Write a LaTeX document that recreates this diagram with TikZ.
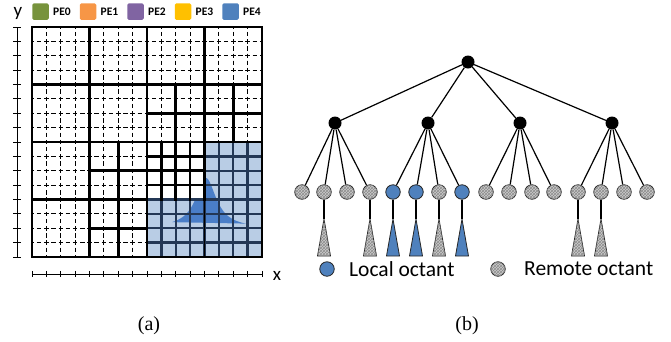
\documentclass[tikz,border=0pt]{standalone}
\usepackage{fontspec}
\setmainfont{Carlito}
\newfontfamily\capfont{Liberation Serif}
\usepackage{tikz}
\usetikzlibrary{positioning, patterns}
\definecolor{pezero}{RGB}{119,147,60}
\definecolor{peone}{RGB}{247,150,70}
\definecolor{petwo}{RGB}{128,100,162}
\definecolor{pethree}{RGB}{255,192,0}
\definecolor{pefour}{RGB}{79,129,189}
\definecolor{cellblue}{RGB}{185,205,229}
\definecolor{cellnavy}{RGB}{35,55,85}
\definecolor{peakblue}{RGB}{74,126,200}

\begin{document}
\begin{tikzpicture}[
    x=1pt, y=-1pt,
    fine/.style={line width=0.8pt, dash pattern=on 4.5pt off 2.6875pt, dash phase=2.25pt},
    wall/.style={line width=2.6pt, line cap=rect},
    navyline/.style={cellnavy, line width=2.4pt},
    legendbox/.style={fill=#1, minimum size=16.5pt, inner sep=0pt, rounded corners=1.5pt},
    petext/.style={font=\fontsize{11.5}{13}\selectfont\bfseries, inner sep=1pt},
    axislabel/.style={font=\fontsize{19}{22}\selectfont, inner sep=0pt},
    octnode/.style={circle, fill=black, minimum size=13pt, inner sep=0pt},
    leaf/.style={circle, draw=black!85, line width=0.8pt, minimum size=14.5pt, inner sep=0pt},
    remote/.style={leaf, fill=black!20, postaction={pattern=crosshatch, pattern color=black!45}},
    local/.style={leaf, fill=pefour},
    edge/.style={line width=1.2pt},
    localtree/.style={draw=black!85, line width=0.8pt, fill=pefour},
    remotetree/.style={draw=black!85, line width=0.8pt, fill=black!20, postaction={pattern=crosshatch, pattern color=black!45}},
    legtext/.style={font=\fontsize{21.5}{25}\selectfont, inner sep=0pt, anchor=west},
    caption/.style={font=\capfont\fontsize{20}{24}\selectfont}
]
    \useasboundingbox (0,0) rectangle (671,341);

    % PE legend
    \node[legendbox=pezero] (pe0box) at (40.5,11.5) {};
    \node[legendbox=peone] (pe1box) at (88,11.5) {};
    \node[legendbox=petwo] (pe2box) at (135.5,11.5) {};
    \node[legendbox=pethree] (pe3box) at (183,11.5) {};
    \node[legendbox=pefour] (pe4box) at (230.5,11.5) {};
    \node[petext, right=3pt of pe0box] (pe0) {PE0};
    \node[petext, right=3pt of pe1box] (pe1) {PE1};
    \node[petext, right=3pt of pe2box] (pe2) {PE2};
    \node[petext, right=3pt of pe3box] (pe3) {PE3};
    \node[petext, right=3pt of pe4box] (pe4) {PE4};

    % Blue region with the peak
    \fill[cellblue] (204.5,142) rectangle (262,199.5) (147,199.5) rectangle (262,257);
    \begin{scope}
        \clip (204.5,142) rectangle (262,199.5) (147,199.5) rectangle (262,257);
        \fill[peakblue] plot[domain=-34:40, samples=80] ({206+\x}, {228-50/(1+(\x/12.4)^2)}) -- cycle;
    \end{scope}

    % Mesh, in cell units
    \begin{scope}[shift={(32,27)}, x=14.375pt, y=-14.375pt]
        % finest cells, dashed
        \foreach \i in {1,...,15} {
            \draw[fine] (\i,0) -- (\i,8);
            \draw[fine] (0,\i) -- (8,\i);
        }
        \foreach \i in {1,...,11} \draw[fine] (\i,8) -- (\i,16);
        \foreach \i in {1,...,7} \draw[fine] (8,\i) -- (16,\i);
        \foreach \i in {13,...,15} \draw[fine] (\i,0) -- (\i,8);
        % blue cells
        \foreach \i in {8,...,16} \draw[navyline] (\i,12) -- (\i,16);
        \foreach \i in {12,...,16} \draw[navyline] (\i,8) -- (\i,12);
        \foreach \j in {12,...,16} \draw[navyline] (8,\j) -- (16,\j);
        \foreach \j in {8,...,11} \draw[navyline] (12,\j) -- (16,\j);
        % octant borders
        \draw[wall] (0,0) rectangle (16,16);
        \draw[wall] (0,4) -- (16,4) (0,8) -- (16,8) (0,12) -- (8,12);
        \draw[wall] (4,0) -- (4,16) (8,0) -- (8,16) (12,0) -- (12,12);
        \draw[wall] (10,4) -- (10,8) (14,4) -- (14,8) (8,6) -- (16,6);
        \draw[wall] (6,8) -- (6,16) (4,10) -- (8,10) (4,14) -- (8,14);
        \foreach \i in {9,10,11} \draw[wall] (\i,8) -- (\i,12) (8,\i) -- (12,\i);
        \draw[line width=1.3pt] (12,12) -- (12,16);
        % axes
        \draw[line width=0.8pt] (-1.04,0) -- (-1.04,16);
        \draw[line width=0.8pt] (0,17.18) -- (16,17.18);
        \foreach \k in {0,...,16} {
            \draw[line width=0.8pt] (-1.32,\k) -- (-0.76,\k);
            \draw[line width=0.8pt] (\k,16.97) -- (\k,17.39);
        }
    \end{scope}
    \node[axislabel] (ylab) at (18,13) {y};
    \node[axislabel] (xlab) at (277,276) {x};

    % Octree
    \node[octnode] (root) at (468,62) {};
    \node[octnode] (n0) at (335,123) {};
    \node[octnode] (n1) at (428,123) {};
    \node[octnode] (n2) at (520,123) {};
    \node[octnode] (n3) at (612,123) {};

    \node[remote] (l0) at (302,192) {};
    \node[remote] (l1) at (324,192) {};
    \node[remote] (l2) at (347,192) {};
    \node[remote] (l3) at (370,192) {};
    \node[local] (l4) at (393,192) {};
    \node[local] (l5) at (416,192) {};
    \node[remote] (l6) at (439,192) {};
    \node[local] (l7) at (462,192) {};
    \node[remote] (l8) at (486,192) {};
    \node[remote] (l9) at (509,192) {};
    \node[remote] (l10) at (532,192) {};
    \node[remote] (l11) at (554,192) {};
    \node[remote] (l12) at (578,192) {};
    \node[remote] (l13) at (601,192) {};
    \node[remote] (l14) at (624,192) {};
    \node[remote] (l15) at (647,192) {};

    % Subtrees
    \coordinate (t1) at (324,219);
    \coordinate (t3) at (370,219);
    \coordinate (t4) at (393,219);
    \coordinate (t5) at (416,219);
    \coordinate (t6) at (439,219);
    \coordinate (t7) at (462,219);
    \coordinate (t12) at (578,219);
    \coordinate (t13) at (601,219);
    \draw[remotetree] (t1) -- ++(-6.5,37) -- ++(13,0) -- cycle;
    \draw[remotetree] (t3) -- ++(-6.5,37) -- ++(13,0) -- cycle;
    \draw[localtree] (t4) -- ++(-6.5,37) -- ++(13,0) -- cycle;
    \draw[localtree] (t5) -- ++(-6.5,37) -- ++(13,0) -- cycle;
    \draw[remotetree] (t6) -- ++(-6.5,37) -- ++(13,0) -- cycle;
    \draw[localtree] (t7) -- ++(-6.5,37) -- ++(13,0) -- cycle;
    \draw[remotetree] (t12) -- ++(-6.5,37) -- ++(13,0) -- cycle;
    \draw[remotetree] (t13) -- ++(-6.5,37) -- ++(13,0) -- cycle;

    % Connections
    \draw[edge] (root) -- (n0);
    \draw[edge] (root) -- (n1);
    \draw[edge] (root) -- (n2);
    \draw[edge] (root) -- (n3);
    \draw[edge] (n0) -- (l0);
    \draw[edge] (n0) -- (l1);
    \draw[edge] (n0) -- (l2);
    \draw[edge] (n0) -- (l3);
    \draw[edge] (n1) -- (l4);
    \draw[edge] (n1) -- (l5);
    \draw[edge] (n1) -- (l6);
    \draw[edge] (n1) -- (l7);
    \draw[edge] (n2) -- (l8);
    \draw[edge] (n2) -- (l9);
    \draw[edge] (n2) -- (l10);
    \draw[edge] (n2) -- (l11);
    \draw[edge] (n3) -- (l12);
    \draw[edge] (n3) -- (l13);
    \draw[edge] (n3) -- (l14);
    \draw[edge] (n3) -- (l15);
    \draw[edge] (l1) -- (t1);
    \draw[edge] (l3) -- (t3);
    \draw[edge] (l4) -- (t4);
    \draw[edge] (l5) -- (t5);
    \draw[edge] (l6) -- (t6);
    \draw[edge] (l7) -- (t7);
    \draw[edge] (l12) -- (t12);
    \draw[edge] (l13) -- (t13);

    % Octant legend
    \node[local] (localkey) at (327,269) {};
    \node[legtext] (localtext) at (349,269) {Local octant};
    \node[remote] (remotekey) at (498,269) {};
    \node[legtext] (remotetext) at (524,269) {Remote octant};

    % Captions
    \node[caption] (capa) at (149,326) {(a)};
    \node[caption] (capb) at (467,326) {(b)};
\end{tikzpicture}
\end{document}
